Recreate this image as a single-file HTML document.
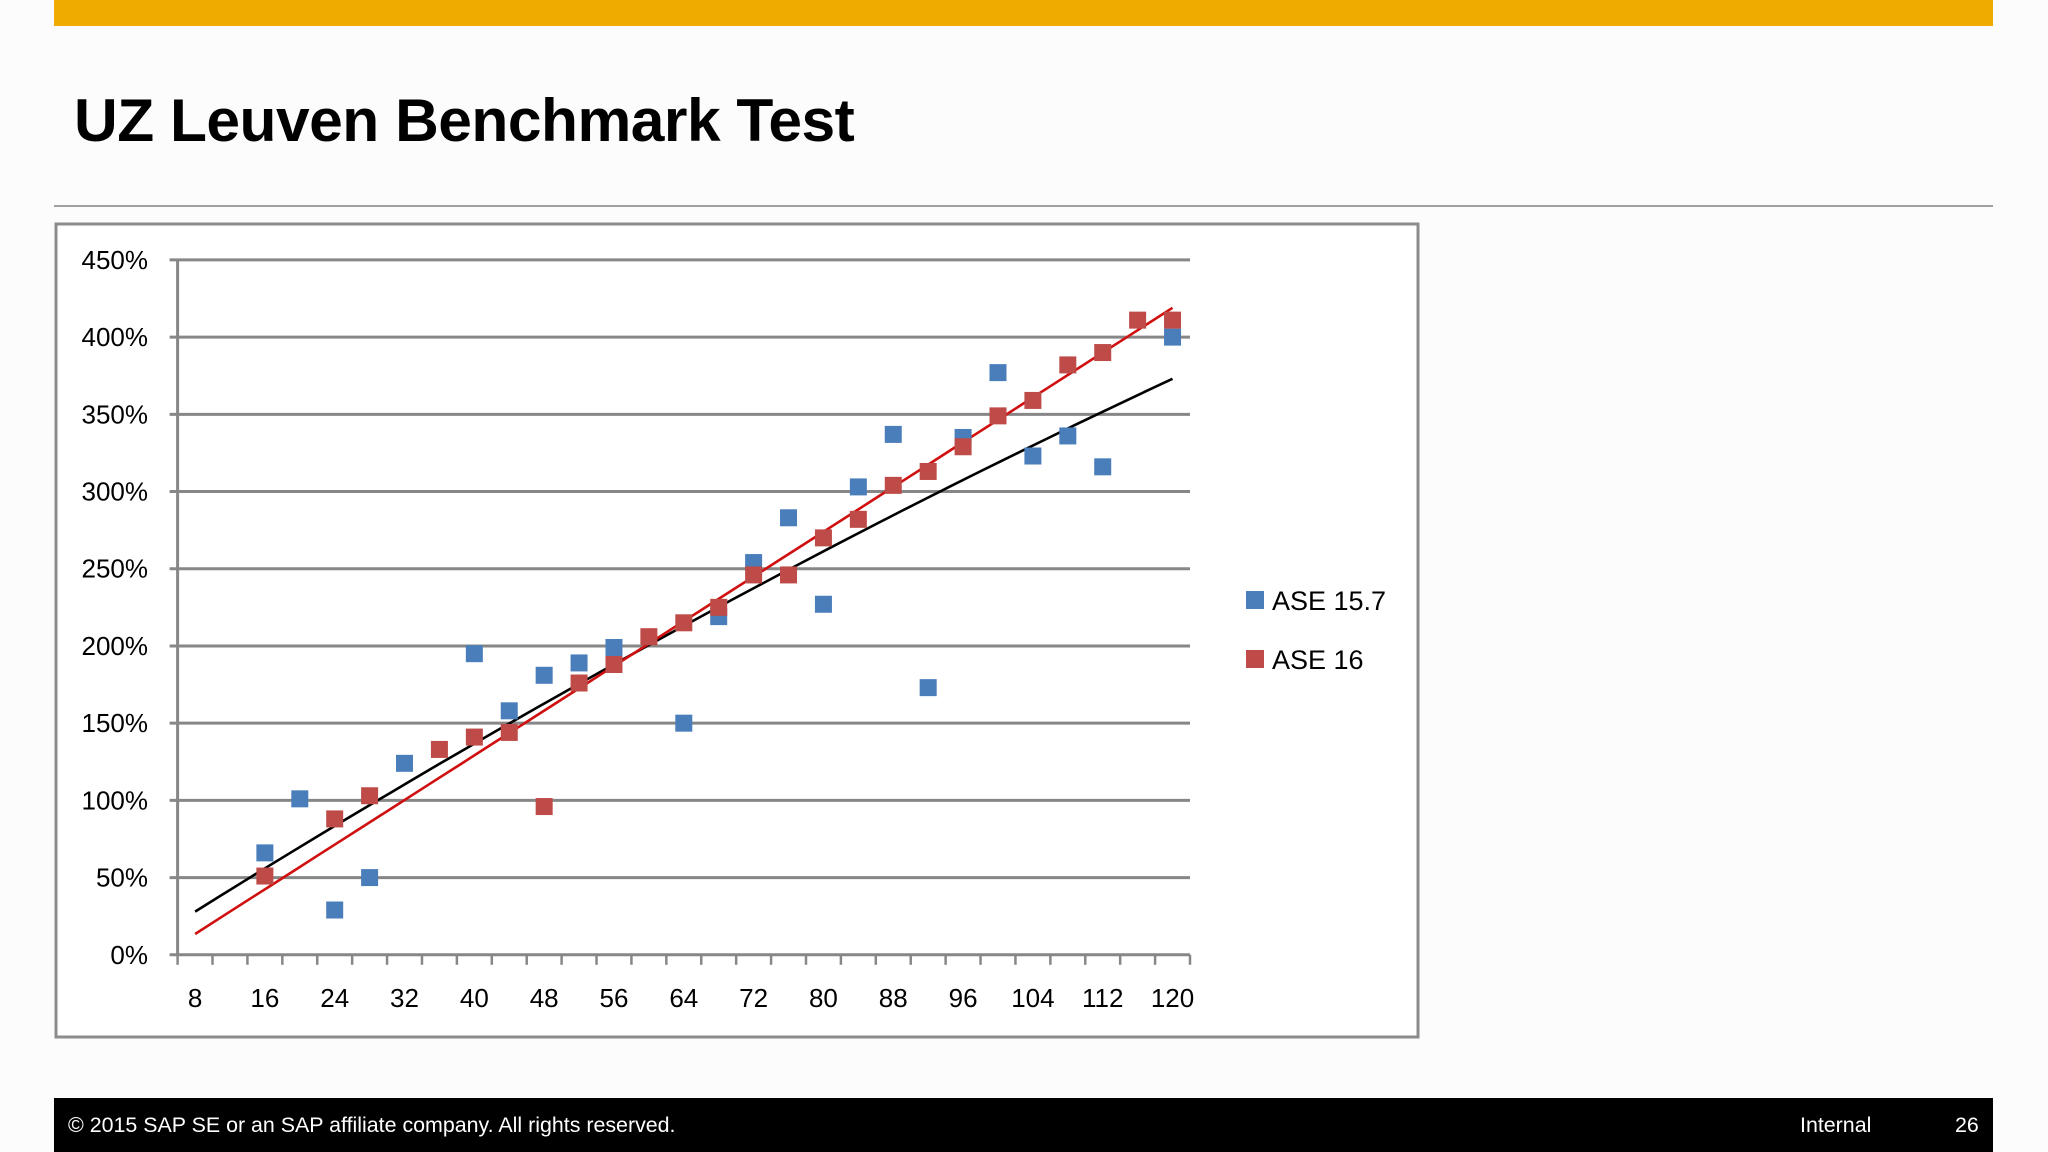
<!DOCTYPE html>
<html><head><meta charset="utf-8">
<style>
html,body{margin:0;padding:0;background:#fcfcfc;}
body{width:2048px;height:1152px;position:relative;overflow:hidden;font-family:"Liberation Sans",sans-serif;}
#topbar{position:absolute;left:54px;top:0;width:1939px;height:26px;background:#f0ab00;}
#title{position:absolute;left:74px;top:85px;font-size:60.5px;font-weight:bold;color:#000;margin:0;letter-spacing:-0.5px;}
#rule{position:absolute;left:54px;top:205px;width:1939px;height:2px;background:#a0a0a0;}
#footer{position:absolute;left:54px;top:1098px;width:1939px;height:54px;background:#000;color:#fff;font-size:21.4px;}
#footer span{position:absolute;top:15px;}
svg{position:absolute;left:0;top:0;}
</style></head><body>
<div id="topbar"></div>
<h1 id="title">UZ Leuven Benchmark Test</h1>
<div id="rule"></div>
<svg id="chart" width="2048" height="1152">
<rect x="56" y="224" width="1362" height="813" fill="#fff" stroke="#8c8c8c" stroke-width="3"/>
<g id="grid"></g><g id="axes"></g><g id="trends"></g><g id="marks"></g>
<g>
<rect x="1246" y="591" width="18" height="18" fill="#4a7ebb"/>
<text x="1272" y="610" font-size="27" font-family="Liberation Sans, sans-serif" fill="#000">ASE 15.7</text>
<rect x="1246" y="650" width="18" height="18" fill="#be4b48"/>
<text x="1272" y="669" font-size="27" font-family="Liberation Sans, sans-serif" fill="#000">ASE 16</text>
</g>
</svg>
<div id="footer">
<span style="left:14px">© 2015 SAP SE or an SAP affiliate company. All rights reserved.</span>
<span style="left:1746px">Internal</span>
<span style="left:1901px">26</span>
</div>
<script>
const categories=[8,12,16,20,24,28,32,36,40,44,48,52,56,60,64,68,72,76,80,84,88,92,96,100,104,108,112,116,120];
const ase157=[null,null,66,101,29,50,124,null,195,158,181,189,199,null,150,219,254,283,227,303,337,173,335,377,323,336,316,null,400];
const ase16=[null,null,51,null,88,103,null,133,141,144,96,176,188,206,215,225,246,246,270,282,304,313,329,349,359,382,390,411,411];
const trendASE157=[28,213,373];
const trendASE16=[13.5,216,419];
const yTicks=[0,50,100,150,200,250,300,350,400,450];
const xLabels=[8,16,24,32,40,48,56,64,72,80,88,96,104,112,120];

const NS="http://www.w3.org/2000/svg";
const L=177.6,R=1190,Y0=954.8,Y450=259.9;
const cw=(R-L)/categories.length;
function xIdx(i){return L+cw*(i+0.5);}
function xVal(v){return xIdx(categories.indexOf(v));}
function y(v){return Y0-(Y0-Y450)*v/450;}
function mk(tag,attrs,parent){const e=document.createElementNS(NS,tag);for(const k in attrs)e.setAttribute(k,attrs[k]);parent.appendChild(e);return e;}
const grid=document.getElementById('grid'),axes=document.getElementById('axes'),trends=document.getElementById('trends'),marks=document.getElementById('marks');
const F="Liberation Sans, sans-serif";
yTicks.forEach(t=>{
  if(t>0){const g=mk('line',{x1:L-8,x2:R,y1:y(t),y2:y(t),stroke:'#878787','stroke-width':3},grid);
  
  }
  const tx=mk('text',{x:148,y:y(t)+9,'font-size':26,'text-anchor':'end','font-family':F,fill:'#000'},axes);
  tx.textContent=t+'%';
  
  
});
const ya=mk('line',{x1:L,x2:L,y1:Y450,y2:Y0,stroke:'#878787','stroke-width':3},axes);


const xa=mk('line',{x1:L-8,x2:R,y1:Y0,y2:Y0,stroke:'#878787','stroke-width':3},axes);


for(let i=0;i<=categories.length;i++){
  const tk=mk('line',{x1:L+cw*i,x2:L+cw*i,y1:Y0,y2:Y0+10,stroke:'#878787','stroke-width':2.5},axes);
  
  
}
xLabels.forEach(v=>{
  const tx=mk('text',{x:xVal(v),y:1007,'font-size':26,'text-anchor':'middle','font-family':F,fill:'#000'},axes);
  tx.textContent=v;
  
  
});
function trend(v,color,name){
  const last=categories.length-1;
  const pts=[];
  for(let k=0;k<=40;k++){
    const t=k/40;
    const f=v[0]*(t-0.5)*(t-1)/0.5 + v[1]*t*(t-1)/(-0.25) + v[2]*t*(t-0.5)/0.5;
    pts.push(xIdx(t*last).toFixed(1)+','+y(f).toFixed(1));
  }
  const ln=mk('polyline',{points:pts.join(' '),fill:'none',stroke:color,'stroke-width':2.6},trends);
  
  
}
function series(data,color,name){
  data.forEach((v,i)=>{if(v==null)return;
    const r=mk('rect',{x:xIdx(i)-8.5,y:y(v)-8.5,width:17,height:17,fill:color},marks);
    
    
  });
}
series(ase157,'#4a7ebb','ase157');
series(ase16,'#be4b48','ase16');
trend(trendASE157,'#000','trendline-ase157');
trend(trendASE16,'#d01010','trendline-ase16');
</script>
</body></html>
